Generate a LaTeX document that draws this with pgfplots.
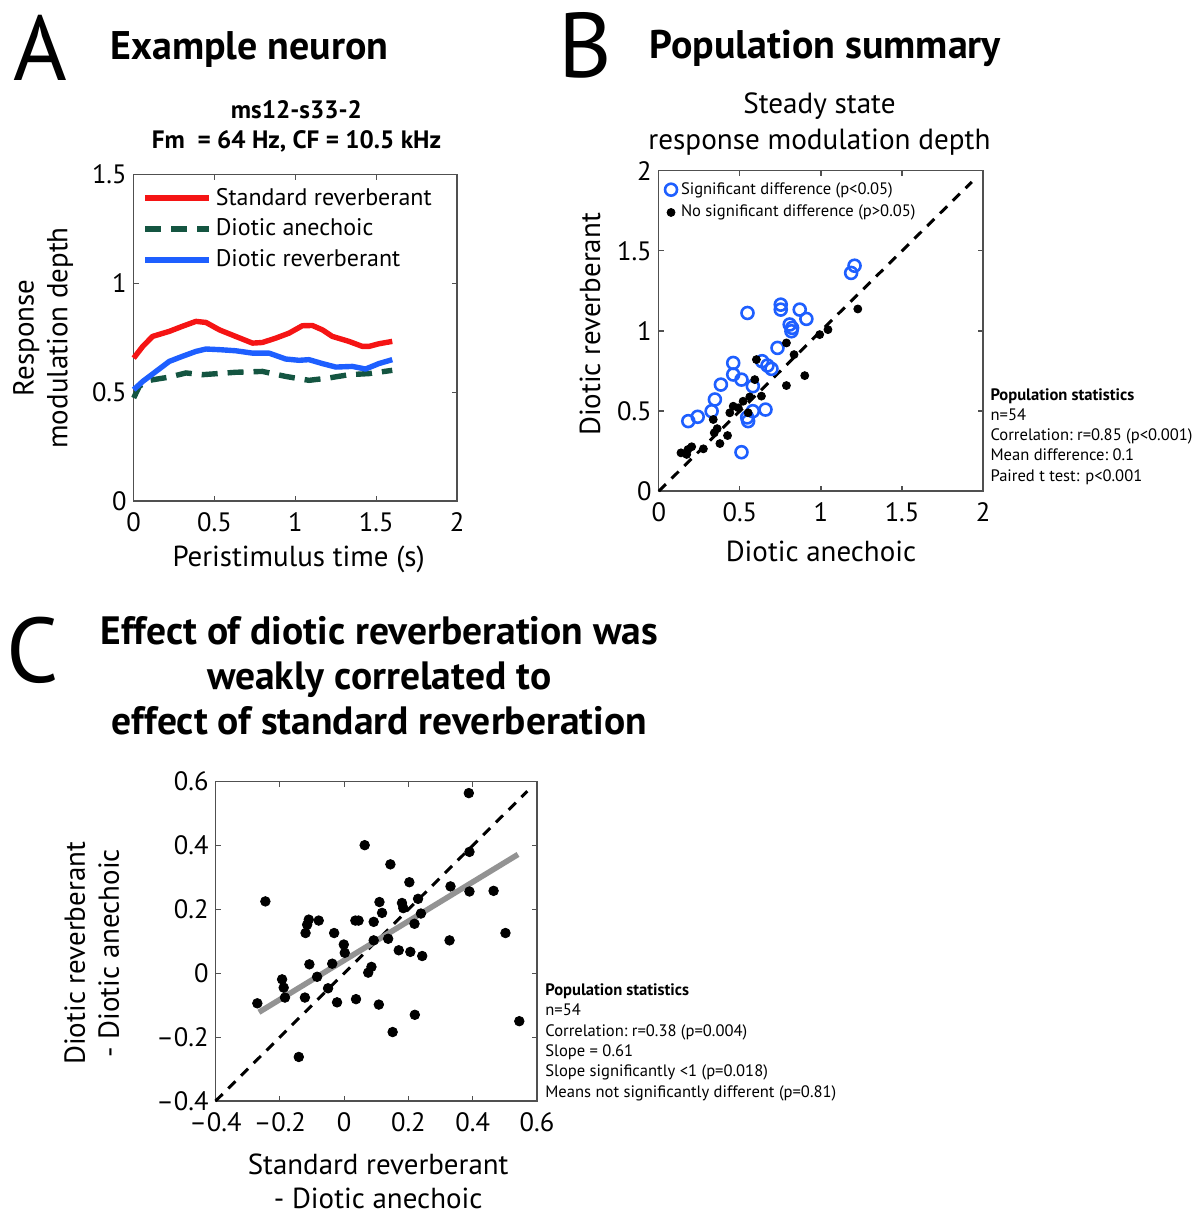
\documentclass[border=0pt]{standalone}
\usepackage{fontspec}
\setmainfont{PT Sans}
\usepackage{pgfplots}
\pgfplotsset{compat=1.18}
\definecolor{cred}{RGB}{245,20,20}
\definecolor{cblue}{RGB}{30,95,255}
\definecolor{cgreen}{RGB}{20,85,65}
\definecolor{cframe}{RGB}{80,80,80}
\pgfplotsset{
  mystyle/.style={
    scale only axis,
    axis line style={cframe,line width=0.7pt},
    tick style={cframe,line width=0.6pt},
    tick align=inside,
    major tick length=2.5pt,
    tick label style={font=\fontsize{13.3}{15}\selectfont},
    xticklabel style={yshift=-2pt},
    label style={font=\fontsize{14.5}{17}\selectfont},
    /pgf/number format/assume math mode=true,
    clip=false,
  }
}
\begin{document}
\begin{tikzpicture}[x=0.5pt,y=-0.5pt]
\path (0pt,0pt) rectangle (600.5pt,-607.5pt);
% ---------------- Panel A
\begin{axis}[mystyle,
  at={(65.5pt,-251pt)}, anchor=south west,
  width=162pt, height=163.5pt,
  xmin=0, xmax=2, ymin=0, ymax=1.5,
  xtick={0,0.5,1,1.5,2}, ytick={0,0.5,1,1.5},
  xlabel={Peristimulus time (s)},
  ylabel={Response\\modulation depth},
  xlabel style={at={(axis description cs:0.51,-0.177)},anchor=center},
  ylabel style={at={(axis description cs:-0.28,0.5)},anchor=center,align=center},
  legend style={at={(axis description cs:0.02,0.985)},anchor=north west,draw=none,fill=none,
    font=\fontsize{12}{14}\selectfont,row sep=1.5pt,inner xsep=1pt},
  legend cell align=left,
  legend image code/.code={\draw[#1] (0pt,0pt) -- (32pt,0pt);},
]
\addplot[cred,line width=2.7pt,line join=round] coordinates {(0,0.657)(0.056,0.711)(0.117,0.757)(0.22,0.78)(0.30,0.803)(0.385,0.826)(0.447,0.821)(0.53,0.787)(0.63,0.757)(0.735,0.726)(0.796,0.729)(0.879,0.749)(0.961,0.772)(1.043,0.806)(1.105,0.807)(1.167,0.787)(1.228,0.757)(1.331,0.734)(1.414,0.711)(1.455,0.711)(1.516,0.723)(1.599,0.734)};
\addlegendentry{Standard reverberant}
\addplot[cgreen,line width=2.7pt,dash pattern=on 8pt off 5pt] coordinates {(0,0.474)(0.035,0.528)(0.097,0.555)(0.22,0.57)(0.323,0.589)(0.426,0.581)(0.63,0.592)(0.796,0.596)(0.94,0.573)(1.084,0.555)(1.208,0.566)(1.331,0.581)(1.455,0.586)(1.599,0.601)};
\addlegendentry{Diotic anechoic}
\addplot[cblue,line width=2.7pt,line join=round] coordinates {(0,0.512)(0.056,0.55)(0.138,0.596)(0.22,0.642)(0.30,0.665)(0.385,0.688)(0.447,0.699)(0.53,0.696)(0.63,0.691)(0.735,0.68)(0.837,0.68)(0.94,0.653)(1.023,0.647)(1.084,0.65)(1.167,0.632)(1.25,0.616)(1.352,0.619)(1.434,0.607)(1.516,0.632)(1.599,0.65)};
\addlegendentry{Diotic reverberant}
\end{axis}
% ---------------- Panel B
\begin{axis}[mystyle,
  at={(328.5pt,-246pt)}, anchor=south west,
  width=162.5pt, height=160.5pt,
  xmin=0, xmax=2, ymin=0, ymax=2,
  xtick={0,0.5,1,1.5,2}, ytick={0,0.5,1,1.5,2},
  xlabel={Diotic anechoic},
  ylabel={Diotic reverberant},
  xlabel style={at={(axis description cs:0.5,-0.187)},anchor=center},
  ylabel style={at={(axis description cs:-0.212,0.52)},anchor=center},
  legend style={at={(axis description cs:0.012,0.99)},anchor=north west,draw=none,fill=none,
    font=\fontsize{8.3}{10}\selectfont,row sep=0pt,inner xsep=1pt},
  legend cell align=left,
]
\addplot[black,line width=1.5pt,dash pattern=on 5pt off 4pt,forget plot] coordinates {(0,0)(1.93,1.93)};
\addplot[only marks,mark=o,mark size=3pt,cblue,mark options={line width=1.3pt}] coordinates {
(0.182,0.437)(0.240,0.464)(0.326,0.499)(0.346,0.572)(0.383,0.665)(0.459,0.800)(0.459,0.728)
(0.510,0.696)(0.547,1.112)(0.551,0.437)(0.580,0.655)(0.580,0.499)(0.658,0.509)(0.510,0.243)
(0.637,0.811)(0.670,0.784)(0.695,0.763)(0.732,0.894)(0.752,1.164)(0.752,1.133)(0.807,1.040)
(0.818,0.998)(0.822,1.019)(0.869,1.133)(0.910,1.075)(1.186,1.362)(1.207,1.407)(0.545,0.46)};
\addlegendentry{Significant difference (p<0.05)}
\addplot[only marks,mark=*,mark size=2pt,black] coordinates {
(0.137,0.239)(0.172,0.229)(0.203,0.277)(0.18,0.26)(0.275,0.264)(0.336,0.447)(0.342,0.364)
(0.377,0.297)(0.424,0.347)(0.459,0.530)(0.490,0.520)(0.520,0.561)(0.561,0.588)(0.592,0.696)
(0.602,0.821)(0.633,0.593)(0.787,0.925)(0.834,0.852)(0.787,0.659)(0.900,0.721)(0.992,0.977)
(1.043,1.008)(1.227,1.137)(0.551,0.489)(0.438,0.489)(0.36,0.39)};
\addlegendentry{No significant difference (p>0.05)}
\end{axis}
% ---------------- Panel C
\begin{axis}[mystyle,
  at={(106.5pt,-551.5pt)}, anchor=south west,
  width=161pt, height=160pt,
  xmin=-0.4, xmax=0.6, ymin=-0.4, ymax=0.6,
  xtick={-0.4,-0.2,0,0.2,0.4,0.6}, ytick={-0.4,-0.2,0,0.2,0.4,0.6},
  xticklabels={–0.4,–0.2,0,0.2,0.4,0.6},
  yticklabels={–0.4,–0.2,0,0.2,0.4,0.6},
  xlabel={Standard reverberant\\- Diotic anechoic},
  ylabel={Diotic reverberant\\- Diotic anechoic},
  xlabel style={at={(axis description cs:0.506,-0.25)},anchor=center,align=center},
  ylabel style={at={(axis description cs:-0.385,0.4625)},anchor=center,align=center},
]
\addplot[black,line width=1.5pt,dash pattern=on 5pt off 4pt] coordinates {(-0.4,-0.4)(0.57,0.57)};
\addplot[only marks,mark=*,mark size=2.4pt,black] coordinates {
(-0.270,-0.094)(-0.245,0.225)(-0.193,-0.019)(-0.188,-0.045)(-0.184,-0.076)(-0.141,-0.262)
(-0.122,-0.076)(-0.120,0.126)(-0.115,0.152)(-0.110,0.168)(-0.079,0.165)(-0.108,0.028)
(-0.084,-0.011)(-0.050,-0.047)(-0.037,0.030)(-0.031,0.126)(-0.022,-0.091)(-0.001,0.090)
(0.002,0.064)(0.037,-0.081)(0.035,0.165)(0.045,0.165)(0.064,0.401)(0.075,0.002)(0.085,0.020)
(0.092,0.161)(0.092,0.103)(0.108,-0.098)(0.110,0.223)(0.118,0.189)(0.137,0.108)(0.144,0.341)
(0.151,-0.184)(0.170,0.072)(0.180,0.220)(0.184,0.204)(0.206,0.067)(0.203,0.285)(0.219,0.155)
(0.220,-0.130)(0.230,0.233)(0.239,0.187)(0.243,0.054)(0.331,0.272)(0.328,0.103)(0.388,0.564)
(0.390,0.256)(0.390,0.380)(0.465,0.258)(0.502,0.126)(0.545,-0.150)};
\addplot[gray!85,line width=2.8pt] coordinates {(-0.265,-0.122)(0.541,0.372)};
\end{axis}
% ---------------- Text
\node[font=\fontsize{46}{50}\selectfont] at (38,48) {A};
\node[font=\fontsize{20}{24}\selectfont\bfseries] at (247,50) {Example neuron};
\node[font=\fontsize{12.6}{15}\selectfont\bfseries,align=center] at (294,127) {ms12-s33-2\\Fm\ \ = 64 Hz, CF = 10.5 kHz};
\node[font=\fontsize{46}{50}\selectfont] at (583,45) {B};
\node[font=\fontsize{20}{24}\selectfont\bfseries] at (824,48) {Population summary};
\node[font=\fontsize{14.6}{18}\selectfont,align=center] at (818,124) {Steady state\\response modulation depth};
\node[font=\fontsize{46}{50}\selectfont] at (30,652) {C};
\node[font=\fontsize{19.8}{22.5}\selectfont\bfseries,align=center] at (377,677) {Effect of diotic reverberation was\\weakly correlated to\\effect of standard reverberation};
\node[font=\fontsize{8.3}{10.1}\selectfont,align=left,anchor=north west,inner sep=0pt] at (989,389)
 {\textbf{Population statistics}\\n=54\\Correlation:\ r=0.85 (p<0.001)\\Mean difference:\ 0.1\\Paired t test: p<0.001};
\node[font=\fontsize{8.3}{10.2}\selectfont,align=left,anchor=north west,inner sep=0pt] at (543,985)
 {\textbf{Population statistics}\\n=54\\Correlation:\ r=0.38 (p=0.004)\\Slope = 0.61\\Slope significantly <1 (p=0.018)\\Means not significantly different (p=0.81)};
\end{tikzpicture}
\end{document}
